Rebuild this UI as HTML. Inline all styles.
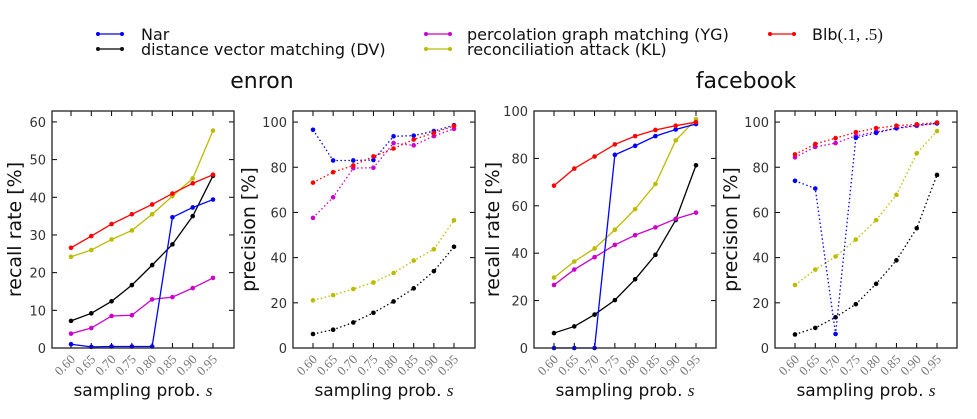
<!DOCTYPE html>
<html><head><meta charset="utf-8"><style>
html,body{margin:0;padding:0;background:#fff;}
svg{display:block;font-family:"DejaVu Sans","Liberation Sans",sans-serif;}
</style></head><body>
<svg id="s" width="977" height="419" viewBox="0 0 977 419" xmlns="http://www.w3.org/2000/svg">
<rect width="977" height="419" fill="#fff"/>
<g font-size="16" fill="#111">
<line x1="98" y1="34" x2="122" y2="34" stroke="#00f" stroke-width="1.3"/><circle cx="98" cy="34" r="2" fill="#00f"/><circle cx="122" cy="34" r="2" fill="#00f"/>
<text x="141" y="40">Nar</text>
<line x1="98" y1="49" x2="122" y2="49" stroke="#000" stroke-width="1.3"/><circle cx="98" cy="49" r="2"/><circle cx="122" cy="49" r="2"/>
<text x="141" y="55">distance vector matching (DV)</text>
<line x1="426" y1="34" x2="450" y2="34" stroke="#c0c" stroke-width="1.3"/><circle cx="426" cy="34" r="2" fill="#c0c"/><circle cx="450" cy="34" r="2" fill="#c0c"/>
<text x="467" y="40">percolation graph matching (YG)</text>
<line x1="426" y1="49" x2="450" y2="49" stroke="#bb0" stroke-width="1.3"/><circle cx="426" cy="49" r="2" fill="#bb0"/><circle cx="450" cy="49" r="2" fill="#bb0"/>
<text x="467" y="55">reconciliation attack (KL)</text>
<line x1="770" y1="34" x2="794" y2="34" stroke="#f00" stroke-width="1.3"/><circle cx="770" cy="34" r="2" fill="#f00"/><circle cx="794" cy="34" r="2" fill="#f00"/>
<text x="812" y="40">Blb<tspan font-family="Liberation Serif,serif" font-size="17">(.1, .5)</tspan></text>
</g>
<text x="262" y="88" font-size="22" text-anchor="middle" fill="#111">enron</text>
<text x="746" y="88" font-size="22" text-anchor="middle" fill="#111">facebook</text>
</svg>
<script>
const S=document.getElementById('s');const NS='http://www.w3.org/2000/svg';
function el(t,a,txt){const e=document.createElementNS(NS,t);for(const k in a)e.setAttribute(k,a[k]);if(txt!=null)e.textContent=txt;S.appendChild(e);return e;}
const C={nar:'#00f',dv:'#000',yg:'#c0c',kl:'#bb0',blb:'#f00'};
const plots=[
{x0:52,x1:234,top:111,y0:348,ymax:62.9,ticks:[0,10,20,30,40,50,60],lab:'recall rate [%]',xs:71,xe:213,dot:false,
d:{nar:[1,0.3,0.4,0.4,0.4,34.7,37.3,39.4],dv:[7.2,9.2,12.4,16.7,22,27.5,35,45.7],yg:[3.8,5.3,8.5,8.7,12.9,13.5,15.9,18.6],kl:[24.2,26,28.8,31.2,35.5,40.3,45,57.7],blb:[26.6,29.7,32.9,35.5,38.1,41,43.7,46]}},
{x0:293,x1:475,top:111,y0:348,ymax:104.9,ticks:[0,20,40,60,80,100],lab:'precision [%]',xs:313,xe:454,dot:true,
d:{nar:[96.6,83,83,83.2,93.7,94,96,98.6],blb:[73.2,77.8,80.8,84.8,88.3,92.3,95.2,98.3],yg:[57.6,66.7,79.6,79.8,90.7,89.7,93.8,97],kl:[21.1,23.4,26.1,29,33.2,38.7,43.7,56.5],dv:[6.2,8.1,11.3,15.6,20.6,26.4,34,44.8]}},
{x0:534,x1:716,top:111,y0:348,ymax:100,ticks:[0,20,40,60,80,100],lab:'recall rate [%]',xs:554,xe:696,dot:false,
d:{blb:[68.5,75.7,80.8,85.9,89.4,92,93.8,95.3],nar:[0,0,0,81.5,85.3,89.4,92.2,94.5],kl:[29.7,36.5,42,49.9,58.6,69.2,87.6,96.5],yg:[26.6,33.1,38.3,43.5,47.6,50.9,54.5,57.1],dv:[6.3,9.1,14.1,20.2,29,39.3,54,77.1]}},
{x0:775,x1:957,top:111,y0:348,ymax:104.9,ticks:[0,20,40,60,80,100],lab:'precision [%]',xs:795,xe:937,dot:true,
d:{blb:[85.7,90.3,92.9,95.5,97.3,98.4,99,99.8],yg:[84.4,89,90.7,93.9,95.7,97.2,98.3,99.4],nar:[74,70.6,6.2,93,95.2,97.3,98.6,99.4],kl:[27.9,34.7,40.5,48,56.6,67.8,86.2,96],dv:[6,8.9,13.6,19.4,28.4,38.8,53,76.6]}}
];
const xl=['0.60','0.65','0.70','0.75','0.80','0.85','0.90','0.95'];
plots.forEach(p=>{
 const Y=v=>p.y0-(p.y0-p.top)*v/p.ymax, X=i=>p.xs+(p.xe-p.xs)*i/7;
 p.ticks.forEach(t=>{const y=Y(t);
  el('line',{x1:p.x0,y1:y,x2:p.x0+5,y2:y,stroke:'#000','stroke-width':1});
  el('line',{x1:p.x1-5,y1:y,x2:p.x1,y2:y,stroke:'#000','stroke-width':1});
  el('text',{x:p.x0-6,y:y+5,'font-size':13,'text-anchor':'end',fill:'#333'},t);});
 for(let i=0;i<8;i++){const x=X(i);
  el('line',{x1:x,y1:p.y0,x2:x,y2:p.y0-5,stroke:'#000'});
  el('line',{x1:x,y1:p.top,x2:x,y2:p.top+5,stroke:'#000'});
  el('text',{x:x+5,y:p.y0+12,'font-size':13,'text-anchor':'end',fill:'#777','font-family':'Liberation Serif,serif',transform:`rotate(-45 ${x+5} ${p.y0+12})`},xl[i]);}
 ['dv','kl','yg','nar','blb'].forEach(k=>{const v=p.d[k];
  el('polyline',{points:v.map((a,i)=>X(i)+','+Y(a)).join(' '),fill:'none',stroke:C[k],'stroke-width':1.3,'stroke-dasharray':p.dot?'1.5,2.5':'none'});
  v.forEach((a,i)=>el('circle',{cx:X(i),cy:Y(a),r:2.3,fill:C[k]}));});
 el('rect',{x:p.x0,y:p.top,width:p.x1-p.x0,height:p.y0-p.top,fill:'none',stroke:'#222','stroke-width':1.3});
 const cx=(p.x0+p.x1)/2;
 const t=el('text',{x:cx,y:396,'font-size':17,'text-anchor':'middle',fill:'#111'},'sampling prob. ');
 const ts=document.createElementNS(NS,'tspan');ts.setAttribute('font-family','Liberation Serif,serif');ts.setAttribute('font-style','italic');ts.textContent='s';t.appendChild(ts);
 const lx=p.x0-(p===plots[0]?31:p===plots[2]?35:38), ly=(p.top+p.y0)/2;
 el('text',{x:lx,y:ly,'font-size':19,'text-anchor':'middle',fill:'#111',transform:`rotate(-90 ${lx} ${ly})`},p.lab);
});
</script>
</body></html>
